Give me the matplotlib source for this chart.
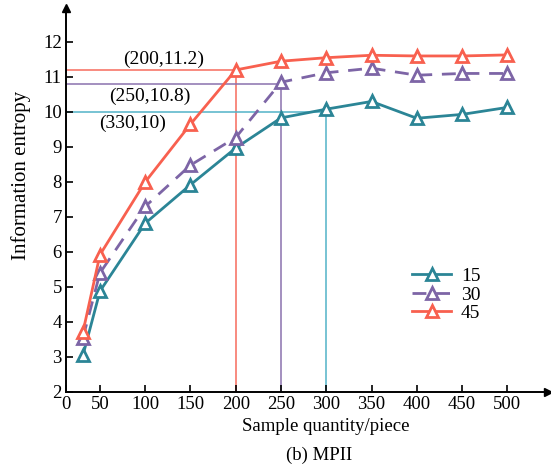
import matplotlib
matplotlib.use("Agg")
import matplotlib.pyplot as plt
import numpy as np

plt.rcParams['font.family'] = ['Liberation Serif', 'DejaVu Serif']
plt.rcParams['font.size'] = 13.5

sizes = [25, 50, 100, 150, 200, 250, 300, 350, 400, 450, 500]
ent_15 = [3.05, 4.88, 6.82, 7.92, 8.97, 9.83, 10.08, 10.3, 9.82, 9.93, 10.13]
ent_30 = [3.55, 5.4, 7.3, 8.48, 9.27, 10.85, 11.12, 11.25, 11.05, 11.1, 11.1]
ent_45 = [3.72, 5.92, 8.0, 9.65, 11.2, 11.45, 11.55, 11.62, 11.6, 11.6, 11.63]
tick_vals = [0, 50, 100, 150, 200, 250, 300, 350, 400, 450, 500]

col_15 = "#2b8596"
col_30 = "#7d65a6"
col_45 = "#f8604f"

# guide lines: (x, y, colour)
guides = [(200, 11.2, "#f66b5d"),
          (250, 10.8, "#8a72ae"),
          (300, 10.0, "#52b3c7")]
notes = [(120, 11.5, "(200,11.2)"),
         (105, 10.45, "(250,10.8)"),
         (86, 9.68, "(330,10)")]


def fwd(x):
    x = np.asarray(x, dtype=float)
    return np.where(x < 50, x * 0.015, x / 50 - 0.25)


def inv(y):
    y = np.asarray(y, dtype=float)
    return np.where(y < 0.75, y / 0.015, (y + 0.25) * 50)


fig = plt.figure(figsize=(5.51, 4.68), dpi=100)
ax = fig.add_axes([0.1198, 0.1624, 0.8748, 0.8205])
ax.set_xscale("function", functions=(fwd, inv))

for x, y, c in guides:
    ax.plot([0, x], [y, y], color=c, lw=1.1, zorder=1)
    ax.plot([x, x], [2, y], color=c, lw=1.1, zorder=1)

mk = dict(marker="^", markersize=9, markerfacecolor="white", markeredgewidth=2)
ax.plot(sizes, ent_15, color=col_15, lw=2, label="15", **mk)
ax.plot(sizes, ent_30, color=col_30, lw=2, dashes=(5, 3.5), label="30", **mk)
ax.plot(sizes, ent_45, color=col_45, lw=2, label="45", **mk)

for x, y, txt in notes:
    ax.text(x, y, txt, ha="center", va="center", fontsize=14)

ax.set_xlim(0, 545)
ax.set_ylim(2, 12.97)
ax.set_xticks(tick_vals)
ax.set_yticks(range(2, 13))
ax.tick_params(direction="in", length=5, width=1.2, pad=3)
ax.spines["top"].set_visible(False)
ax.spines["right"].set_visible(False)
ax.spines["left"].set_linewidth(1.4)
ax.spines["bottom"].set_linewidth(1.4)
ax.plot(1, 0, ">k", markersize=6, transform=ax.transAxes, clip_on=False)
ax.plot(0, 1, "^k", markersize=6, transform=ax.transAxes, clip_on=False)

ax.set_xlabel("Sample quantity/piece")
ax.set_ylabel("Information entropy", fontsize=15)
ax.xaxis.set_label_coords(0.539, -0.067)
ax.yaxis.set_label_coords(-0.073, 0.565)

leg = ax.legend(loc="upper left", bbox_to_anchor=(0.682, 0.37), frameon=False,
                handlelength=2.0, labelspacing=0.05, handletextpad=0.5,
                fontsize=14)

fig.text(319 / 551, 1 - 455 / 468, "(b) MPII", ha="center", va="center",
         fontsize=13.5)

fig.savefig("out.png", dpi=100)
